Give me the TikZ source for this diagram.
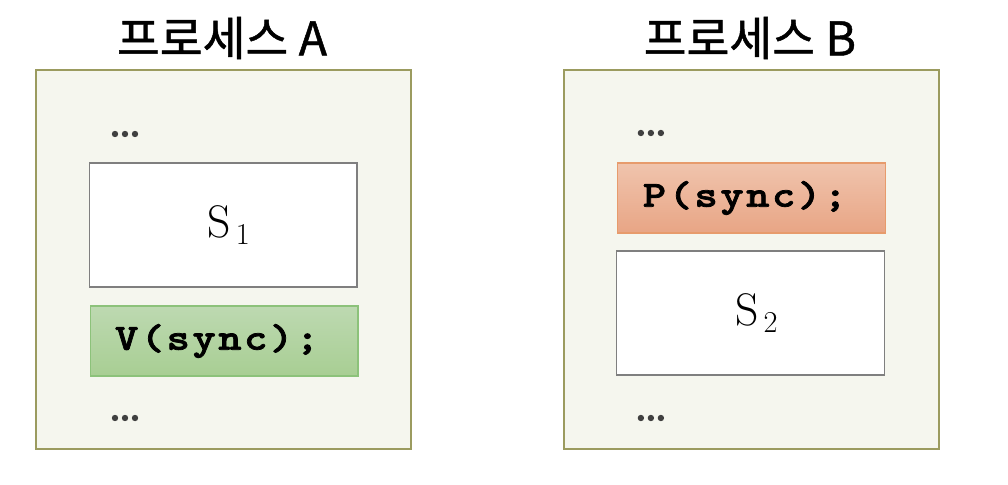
\documentclass[tikz,border=0pt]{standalone}
\usepackage{fontspec}
\newfontfamily\krfont{Noto Sans CJK KR}[FakeBold=1]
\newfontfamily\codefont{lmmonolt10-bold.otf}[FakeStretch=1.2, FakeBold=2, LetterSpace=7]
\definecolor{procfill}{HTML}{F5F6EE}
\definecolor{procedge}{HTML}{9B9B5F}
\definecolor{stmtedge}{HTML}{7F7F7F}
\definecolor{vtop}{HTML}{BDD9B1}
\definecolor{vbottom}{HTML}{A8CE93}
\definecolor{vedge}{HTML}{8CC27A}
\definecolor{ptop}{HTML}{F0C4AD}
\definecolor{pbottom}{HTML}{E8A585}
\definecolor{pedge}{HTML}{E79B6C}
\definecolor{dotgray}{HTML}{404040}
\newcommand\stmtlabel[1]{\hspace*{0.24cm}\raisebox{-0.3ex}{S$_{\,#1}$}}
\tikzset{
  title/.style={font=\krfont\fontsize{26.5}{26.5}\selectfont, inner sep=0pt},
  procbox/.style={draw=procedge, fill=procfill, line width=0.8pt,
    minimum width=7.5cm, minimum height=7.58cm, inner sep=0pt},
  stmtbox/.style={draw=stmtedge, fill=white, line width=0.6pt,
    minimum width=5.36cm, minimum height=2.48cm, inner sep=0pt,
    font=\fontsize{26}{26}\selectfont},
  codebox/.style={line width=0.6pt, minimum height=1.4cm,
    text width=4.36cm, align=left, inner xsep=0.5cm,
    font=\codefont\fontsize{21}{21}\selectfont},
  vbox/.style={codebox, draw=vedge, top color=vtop, bottom color=vbottom},
  pbox/.style={codebox, draw=pedge, top color=ptop, bottom color=pbottom},
}
\begin{document}
\begin{tikzpicture}[x=0.02cm, y=-0.02cm]
  \useasboundingbox (0,0) rectangle (1008,484);

  % process A
  \begin{scope}
    \node[title] (titleA) at (222,38) {프로세스 A};
    \node[procbox] (procA) at (223.5,259.5) {};
    \foreach \dx in {0,10,20}
      \fill[dotgray] (115+\dx,134) circle[radius=0.064cm];
    \node[stmtbox] (sA) at (223,225) {\stmtlabel{1}};
    \node[vbox] (vA) at (224,341) {V(sync);};
    \foreach \dx in {0,10,20}
      \fill[dotgray] (115+\dx,418) circle[radius=0.064cm];
  \end{scope}

  % process B
  \begin{scope}[xshift=10.56cm]
    \node[title] (titleB) at (222,38) {프로세스 B};
    \node[procbox] (procB) at (223.5,259.5) {};
    \foreach \dx in {0,10,20}
      \fill[dotgray] (113+\dx,133) circle[radius=0.064cm];
    \node[pbox] (pB) at (224,198) {P(sync);};
    \node[stmtbox] (sB) at (223,313) {\stmtlabel{2}};
    \foreach \dx in {0,10,20}
      \fill[dotgray] (113+\dx,418) circle[radius=0.064cm];
  \end{scope}
\end{tikzpicture}
\end{document}
